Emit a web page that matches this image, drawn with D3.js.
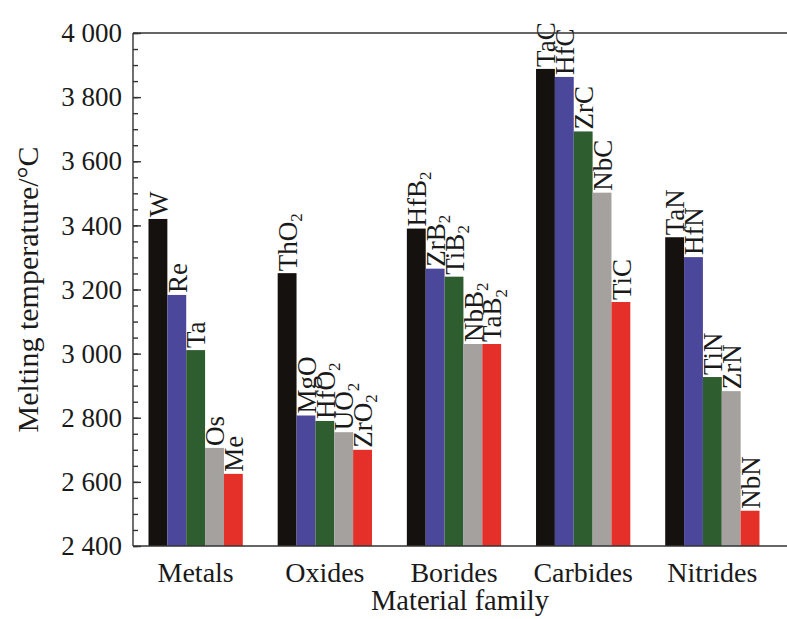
<!DOCTYPE html>
<html lang="en">
<head>
<meta charset="UTF-8">
<script src="https://d3js.org/d3.v7.min.js"></script>
<title>Melting temperature by material family</title>
<style>
  body { margin: 0; background: #fff; }
  text { font-family: "Liberation Serif", "Times New Roman", serif; fill: #1a1a1a; }
</style>
</head>
<body>
<script>
// data
var families = ["Metals", "Oxides", "Borides", "Carbides", "Nitrides"];
var names = [
  ["W", "Re", "Ta", "Os", "Me"],
  ["ThO_2", "MgO", "HfO_2", "UO_2", "ZrO_2"],
  ["HfB_2", "ZrB_2", "TiB_2", "NbB_2", "TaB_2"],
  ["TaC", "HfC", "ZrC", "NbC", "TiC"],
  ["TaN", "HfN", "TiN", "ZrN", "NbN"]
];
var temps = [
  [3420, 3183, 3011, 2706, 2625],
  [3251, 2807, 2790, 2755, 2700],
  [3390, 3265, 3240, 3030, 3030],
  [3888, 3863, 3693, 3502, 3161],
  [3363, 3301, 2927, 2883, 2510]
];
var yTicks = [2400, 2600, 2800, 3000, 3200, 3400, 3600, 3800, 4000];
var colors = ["#15110e", "#4b479b", "#2e5e30", "#a4a19f", "#e5302a"];

var width = 787, height = 619;
var plotL = 133, plotT = 33, plotB = 546, plotR = 800;

var svg = d3.select("body").append("svg").attr("width", width).attr("height", height);

var x0 = d3.scaleBand().domain(families).range([plotL, 775]).paddingInner(0.27).paddingOuter(0.12);
var x1 = d3.scaleBand().domain(d3.range(5)).range([0, x0.bandwidth()]);
var y = d3.scaleLinear().domain([2400, 4000]).range([plotB, plotT]);

// bars
var rows = [];
families.forEach(function(f, i) {
  temps[i].forEach(function(v, j) {
    rows.push({fam: f, j: j, v: v, name: names[i][j]});
  });
});

svg.append("g").selectAll("rect").data(rows).join("rect")
  .attr("x", d => x0(d.fam) + x1(d.j))
  .attr("y", d => y(d.v))
  .attr("width", x1.bandwidth())
  .attr("height", d => plotB - y(d.v))
  .attr("fill", d => colors[d.j]);

// rotated labels above bars, with subscripts
var lab = svg.append("g").selectAll("text").data(rows).join("text")
  .attr("transform", d => "translate(" + (x0(d.fam) + x1(d.j) + x1.bandwidth() / 2) + "," + (y(d.v) - 2) + ") rotate(-90)")
  .attr("dy", "0.36em")
  .style("font-size", "27px");
lab.each(function(d) {
  var parts = d.name.split("_");
  var t = d3.select(this);
  t.append("tspan").text(parts[0]);
  if (parts[1]) t.append("tspan").attr("dy", "0.3em").style("font-size", "17px").text(parts[1]);
});

// y axis: minor + major ticks pointing inward
svg.append("g").attr("transform", "translate(" + plotL + ",0)")
  .call(d3.axisLeft(y).tickValues(d3.range(2400, 4001, 50)).tickSize(-5).tickFormat(""))
  .call(g => g.select(".domain").remove())
  .call(g => g.selectAll("line").attr("stroke", "#333").attr("stroke-width", 1.4));

var fmt = d3.format(",");
svg.append("g").attr("transform", "translate(" + plotL + ",0)")
  .call(d3.axisLeft(y).tickValues(yTicks).tickSize(-8).tickPadding(11).tickFormat(d => fmt(d).replace(",", " ")))
  .call(g => g.select(".domain").remove())
  .call(g => g.selectAll("line").attr("stroke", "#333").attr("stroke-width", 1.4))
  .call(g => g.selectAll("text").style("font-size", "27px").style("font-family", "Liberation Serif").attr("fill", "#1a1a1a"));

// frame (open on the right, as cropped in the figure)
var frame = svg.append("g").attr("stroke", "#333").attr("stroke-width", 1.4);
frame.append("line").attr("x1", plotL).attr("x2", plotR).attr("y1", plotT).attr("y2", plotT);
frame.append("line").attr("x1", plotL).attr("x2", plotR).attr("y1", plotB).attr("y2", plotB);
frame.append("line").attr("x1", plotL).attr("x2", plotL).attr("y1", plotT).attr("y2", plotB);

// category labels
svg.append("g").selectAll("text").data(families).join("text")
  .attr("x", d => x0(d) + x0.bandwidth() / 2)
  .attr("y", 582)
  .attr("text-anchor", "middle")
  .style("font-size", "28px")
  .text(d => d);

// axis titles
svg.append("text").attr("x", 460).attr("y", 610).attr("text-anchor", "middle")
  .style("font-size", "28.5px").text("Material family");
svg.append("text").attr("transform", "translate(38," + ((plotT + plotB) / 2) + ") rotate(-90)")
  .attr("text-anchor", "middle").style("font-size", "30px").text("Melting temperature/°C");
</script>
</body>
</html>
